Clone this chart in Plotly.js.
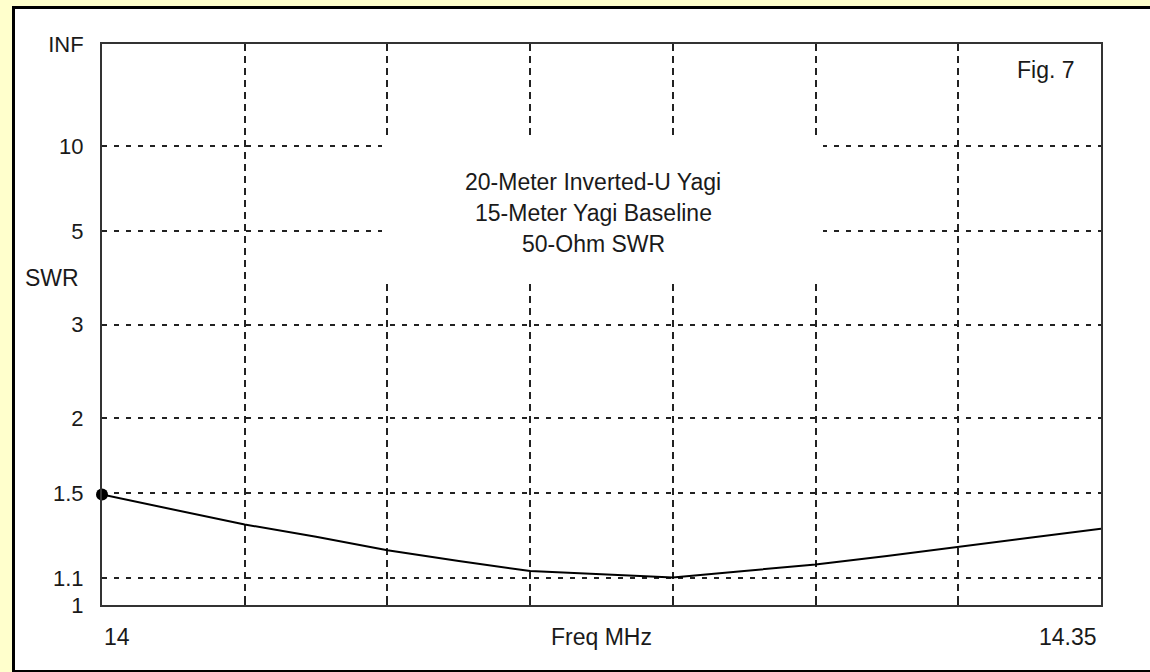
<!DOCTYPE html>
<html>
<head>
<meta charset="utf-8">
<script src="https://cdn.plot.ly/plotly-3.0.1.min.js"></script>
<style>
  html, body { margin: 0; padding: 0; width: 1150px; height: 672px; overflow: hidden; background: #FFFFCC; }
  #frame { position: absolute; left: 12px; top: 6px; width: 1200px; height: 661px; background: #ffffff;
           border-left: 3px solid #000; border-top: 3px solid #000; border-bottom: 2px solid #000; }
  #chart { position: absolute; left: 0; top: 0; width: 1150px; height: 672px; }
</style>
</head>
<body>
<div id="frame"></div>
<div id="chart"></div>
<script>
// ---- data ----
const freq = [14.000, 14.025, 14.050, 14.075, 14.100, 14.125, 14.150, 14.175, 14.200, 14.225, 14.250, 14.275, 14.300, 14.325, 14.350];
const swr  = [1.49,   1.41,   1.335,  1.277,  1.216,  1.170,  1.129,  1.116,  1.103,  1.129,  1.156,  1.191,  1.232,  1.272,  1.315];

const yTickSWR  = [1, 1.1, 1.5, 2, 3, 5, 10, Infinity];
const yTickText = ['1', '1.1', '1.5', '2', '3', '5', '10', 'INF'];

const xRange = [14.0, 14.35];
const xGridStep = 0.05;
const xLabelVals = [14.0, 14.35];
const xLabelText = ['14', '14.35'];
const xAxisTitle = 'Freq MHz';
const yAxisTitle = 'SWR';
const titleLines = ['20-Meter Inverted-U Yagi', '15-Meter Yagi Baseline', '50-Ohm SWR'];
const figLabel = 'Fig. 7';

// SWR scale: plotted as reflection coefficient rho = (s-1)/(s+1)
const rho = s => (s === Infinity ? 1 : (s - 1) / (s + 1));

const FONT = '"Liberation Sans", Arial, sans-serif';
const TXT = '#1a1a1a';
const FS = 23;

// pixel helpers for the plot area (l=102, t=44, h=561, w=999)
const PL = 102, PT = 44, PW = 999, PH = 561;
const px = p => (p - PL) / PW;
const py = p => (PT + PH - p) / PH;

const traces = [
  { x: freq, y: swr.map(rho), type: 'scatter', mode: 'lines',
    line: { color: '#000', width: 2 }, hoverinfo: 'skip', showlegend: false },
  { x: [freq[0]], y: [rho(swr[0])], type: 'scatter', mode: 'markers',
    marker: { color: '#000', size: 12 }, hoverinfo: 'skip', showlegend: false, cliponaxis: false }
];

const annotations = [];
const lineCenters = [182, 213, 244];
titleLines.forEach((t, i) => annotations.push({
  text: t, xref: 'paper', yref: 'paper', x: px(593), y: py(lineCenters[i]),
  xanchor: 'center', yanchor: 'middle', showarrow: false,
  font: { family: FONT, size: FS, color: TXT }
}));
annotations.push({ text: figLabel, xref: 'paper', yref: 'paper', x: px(1077), y: py(70),
  xanchor: 'right', yanchor: 'middle', showarrow: false, font: { family: FONT, size: FS, color: TXT } });
annotations.push({ text: yAxisTitle, xref: 'paper', yref: 'paper', x: px(51.5), y: py(278),
  xanchor: 'center', yanchor: 'middle', showarrow: false, font: { family: FONT, size: FS, color: TXT } });
annotations.push({ text: xAxisTitle, xref: 'paper', yref: 'paper', x: 0.5, y: py(637),
  xanchor: 'center', yanchor: 'middle', showarrow: false, font: { family: FONT, size: FS, color: TXT } });
xLabelVals.forEach((v, i) => annotations.push({
  text: xLabelText[i], xref: 'x', yref: 'paper', x: v, y: py(637),
  xanchor: i === 0 ? 'left' : 'right', xshift: i === 0 ? 0 : -2, yanchor: 'middle', showarrow: false,
  font: { family: FONT, size: FS, color: TXT }
}));

const layout = {
  width: 1150, height: 672,
  margin: { l: PL, r: 1150 - PL - PW, t: PT, b: 672 - PT - PH, pad: 0 },
  paper_bgcolor: 'rgba(0,0,0,0)', plot_bgcolor: '#ffffff',
  showlegend: false,
  xaxis: {
    range: xRange, tick0: xRange[0], dtick: xGridStep, showticklabels: false,
    ticks: 'inside', ticklen: 6, tickwidth: 2, tickcolor: '#222',
    showgrid: true, gridcolor: '#222', gridwidth: 2, griddash: '7px,5px',
    showline: true, linecolor: '#333', linewidth: 2, mirror: true, zeroline: false, fixedrange: true
  },
  yaxis: {
    range: [0, 1], tickmode: 'array', tickvals: yTickSWR.map(rho), ticktext: yTickText,
    ticks: 'outside', ticklen: 12, tickcolor: 'rgba(0,0,0,0)',
    tickfont: { family: FONT, size: 22, color: TXT },
    showgrid: true, gridcolor: '#222', gridwidth: 2, griddash: '5px,7px',
    showline: true, linecolor: '#333', linewidth: 2, mirror: true, zeroline: false, fixedrange: true
  },
  shapes: [
    { type: 'rect', xref: 'paper', yref: 'paper', x0: px(382), x1: px(823), y0: py(281), y1: py(139),
      fillcolor: '#ffffff', line: { width: 0 }, layer: 'above' }
  ],
  annotations: annotations
};

Plotly.newPlot('chart', traces, layout, { displayModeBar: false, staticPlot: true });
</script>
</body>
</html>
